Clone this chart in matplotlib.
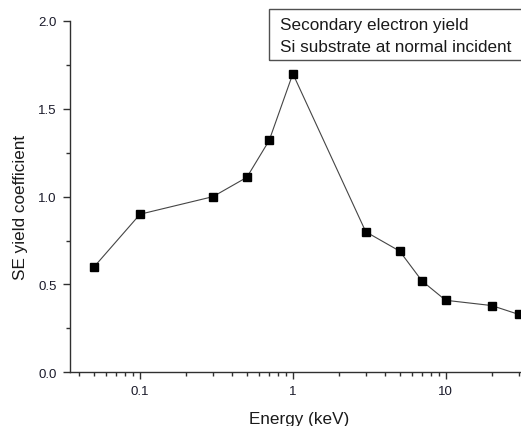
import matplotlib
matplotlib.use("Agg")
import matplotlib.pyplot as plt
import matplotlib.patches as mpatches
from matplotlib.ticker import LogLocator, NullFormatter, MultipleLocator, FixedLocator, FixedFormatter

plt.rcParams['font.family'] = ['Liberation Sans', 'DejaVu Sans']

energy_kev = [0.05, 0.1, 0.3, 0.5, 0.7, 1, 3, 5, 7, 10, 20, 30]
se_yield = [0.60, 0.90, 1.00, 1.11, 1.32, 1.70, 0.80, 0.69, 0.52, 0.41, 0.38, 0.33]
x_tick_values = [0.1, 1, 10]
x_tick_labels = ['0.1', '1', '10']
y_tick_values = [0.0, 0.5, 1.0, 1.5, 2.0]
y_tick_labels = ['0.0', '0.5', '1.0', '1.5', '2.0']
legend_lines = ['Secondary electron yield', 'Si substrate at normal incident']

W, H = 521, 427
ax_left, ax_right, ax_bottom, ax_top = 70, 528.8, 373.3, 22
fig = plt.figure(figsize=(W / 100, H / 100), dpi=100)
ax = fig.add_axes([ax_left / W, 1 - ax_bottom / H, (ax_right - ax_left) / W, (ax_bottom - ax_top) / H])

ax.plot(energy_kev, se_yield, color='#454545', lw=0.8, marker='s', ms=6.2,
        mfc='black', mec='black', clip_on=False, zorder=3)

ax.set_xscale('log')
ax.set_xlim(0.0348, 35)
ax.set_ylim(0, 2)

ax.xaxis.set_major_locator(FixedLocator(x_tick_values))
ax.xaxis.set_major_formatter(FixedFormatter(x_tick_labels))
ax.xaxis.set_minor_locator(LogLocator(base=10, subs=[2, 3, 4, 5, 6, 7, 8, 9], numticks=20))
ax.xaxis.set_minor_formatter(NullFormatter())
ax.yaxis.set_major_locator(FixedLocator(y_tick_values))
ax.yaxis.set_major_formatter(FixedFormatter(y_tick_labels))
ax.yaxis.set_minor_locator(MultipleLocator(0.25))

for s in ['top', 'right']:
    ax.spines[s].set_visible(False)
for s in ['left', 'bottom']:
    ax.spines[s].set_color('#303030')
    ax.spines[s].set_linewidth(1.0)

ax.tick_params(which='major', direction='out', length=5, width=1.0, color='#303030',
               labelsize=9.5, labelcolor='#1a1a2a', pad=4.5)
ax.tick_params(which='minor', direction='out', length=2.6, width=1.0, color='#303030')

ax.set_xlabel('Energy (keV)', fontsize=12.3, color='#1a1a1a', labelpad=10)
ylab = ax.set_ylabel('SE yield coefficient', fontsize=12.3, color='#1a1a1a', va='center')
ax.yaxis.set_label_coords((20.5 - ax_left) / (ax_right - ax_left),
                          (ax_bottom - 207.5) / (ax_bottom - ax_top))

# annotation box
rect = mpatches.Rectangle((269 / W, 1 - 60.5 / H), (560 - 269) / W, 50.5 / H,
                          transform=fig.transFigure, fill=False, edgecolor='#505050',
                          lw=1.0, clip_on=False)
fig.patches.append(rect)
fig.text(280 / W, 1 - 30 / H, legend_lines[0], fontsize=12.3, color='#1a1a1a', va='baseline')
fig.text(280 / W, 1 - 52.3 / H, legend_lines[1], fontsize=12.3, color='#1a1a1a', va='baseline')

fig.savefig('out.png', dpi=100)
